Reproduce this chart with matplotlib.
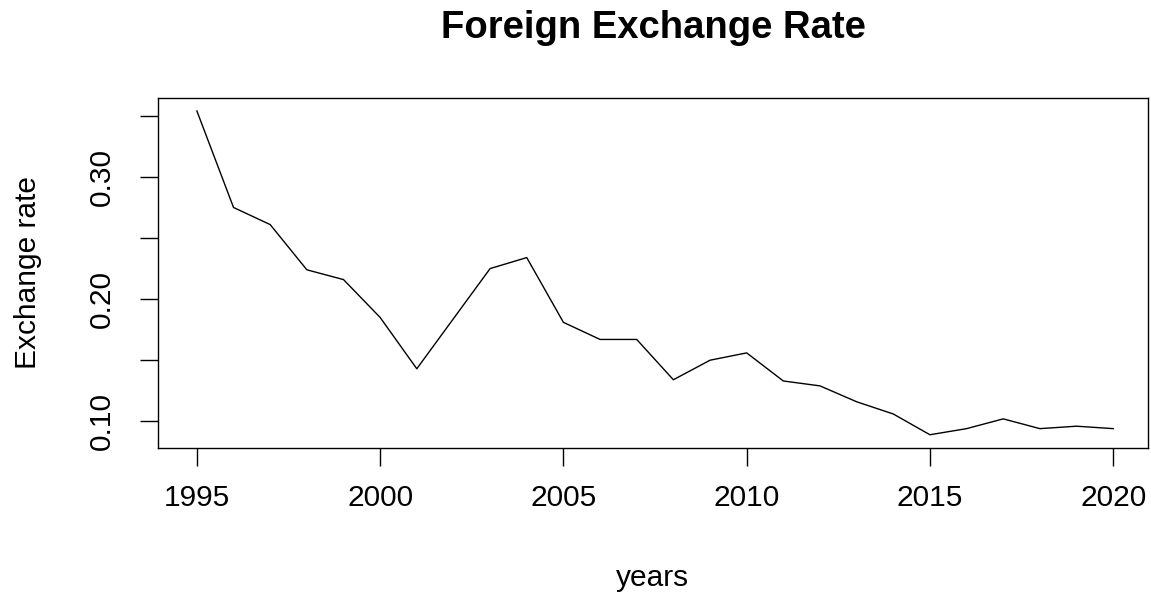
import matplotlib
matplotlib.use("Agg")
import matplotlib.pyplot as plt

plt.rcParams['font.family'] = ['Liberation Sans', 'DejaVu Sans']

years = list(range(1995, 2021))
rate = [0.354, 0.275, 0.261, 0.224, 0.216, 0.185, 0.143, 0.184, 0.225, 0.234,
        0.181, 0.167, 0.167, 0.134, 0.150, 0.156, 0.133, 0.129, 0.116, 0.106,
        0.089, 0.094, 0.102, 0.094, 0.096, 0.094]

x_ticks = [1995, 2000, 2005, 2010, 2015, 2020]
y_ticks = [0.10, 0.15, 0.20, 0.25, 0.30, 0.35]
y_tick_labels = ['0.10', '', '0.20', '', '0.30', '']

fig = plt.figure(figsize=(11.51, 5.94), dpi=100)
ax = fig.add_axes([0.1373, 0.2463, 0.8601, 0.5887])

ax.plot(years, rate, color='black', linewidth=1.0)

# R style 4% padding
lo, hi = min(rate), max(rate)
pad = (hi - lo) * 0.04
ax.set_ylim(lo - pad, hi + pad)
ax.set_xlim(min(years) - 1.06, max(years) + 0.95)

ax.set_xticks(x_ticks)
ax.set_xticklabels([str(t) for t in x_ticks])
ax.set_yticks(y_ticks)
ax.set_yticklabels(y_tick_labels, rotation=90, va='center')

ax.tick_params(axis='both', direction='out', length=13, width=1.0, labelsize=21.5)
ax.tick_params(axis='x', pad=13)
ax.tick_params(axis='y', pad=17)
for s in ax.spines.values():
    s.set_linewidth(1.0)

fig.text(0.5673, 0.953, 'Foreign Exchange Rate', ha='center', va='center',
         fontsize=27.5, fontweight='bold')
fig.text(0.5673, 0.027, 'years', ha='center', va='center', fontsize=21.5)
fig.text(0.024, 0.5405, 'Exchange rate', ha='center', va='center',
         fontsize=21.5, rotation=90)

fig.savefig('out.png', dpi=100)
